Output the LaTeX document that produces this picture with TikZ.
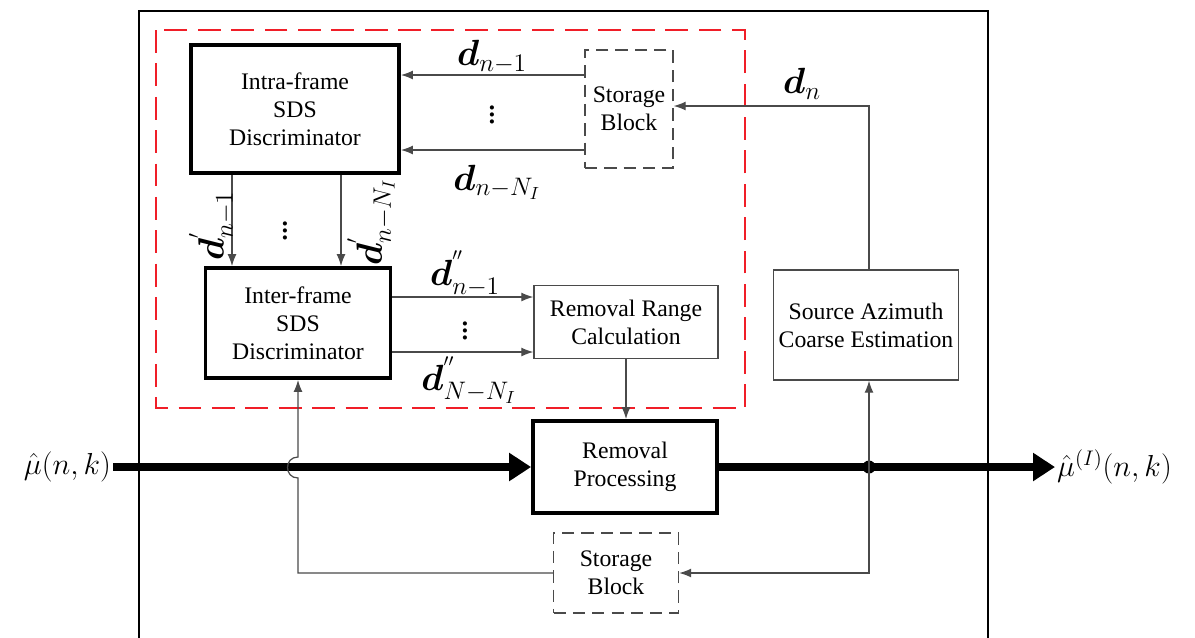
\documentclass[tikz,border=0pt]{standalone}
\usepackage{fontspec}
\setmainfont{Liberation Serif}
\usepackage{amsmath,amssymb}
\usetikzlibrary{arrows.meta,positioning,calc}
\definecolor{lnGray}{HTML}{4A4A4A}
\definecolor{dashRed}{HTML}{F01E28}

\tikzset{
  boxtext/.style={align=center, font=\fontsize{13.5}{16}\selectfont, inner sep=0pt},
  thickbox/.style={boxtext, draw=black, line width=2.2pt},
  thinbox/.style={boxtext, draw=lnGray, line width=0.8pt},
  storebox/.style={boxtext, draw=lnGray, line width=0.8pt, dash pattern=on 7pt off 4pt},
  sig/.style={draw=lnGray, line width=0.7pt, -{Latex[length=2.4mm,width=1.8mm]}},
  bigsig/.style={draw=black, line width=4.4pt, -{Triangle[length=4.4mm,width=5.4mm]}},
  lbl/.style={font=\fontsize{20}{22}\selectfont, inner sep=1pt},
  iolbl/.style={font=\fontsize{18}{20}\selectfont, inner sep=1pt},
}

\begin{document}
\begin{tikzpicture}[x=0.02cm, y=-0.02cm]
  \useasboundingbox (0,0) rectangle (1195,637);
  % frames
  \draw[line width=1.2pt] (139,660) -- (139,11) -- (988,11) -- (988,660);
  \draw[dashRed, line width=1.2pt, dash pattern=on 13pt off 6pt] (156,30) rectangle (745,408);

  % blocks
  \node[thickbox, minimum width=4.16cm, minimum height=2.56cm] (intra) at (295,109) {Intra-frame\\SDS\\Discriminator};
  \node[storebox, minimum width=1.76cm, minimum height=2.36cm] (storeA) at (629,109) {Storage\\Block};
  \node[thickbox, minimum width=3.7cm, minimum height=2.2cm] (inter) at (298,323) {Inter-frame\\SDS\\Discriminator};
  \node[thinbox, minimum width=3.68cm, minimum height=1.46cm] (range) at (626,322) {Removal Range\\Calculation};
  \node[thickbox, minimum width=3.68cm, minimum height=1.84cm] (proc) at (625,467) {Removal\\Processing};
  \node[thinbox, minimum width=3.7cm, minimum height=2.2cm] (coarse) at (866,325) {Source Azimuth\\Coarse Estimation};
  \node[storebox, minimum width=2.5cm, minimum height=1.6cm] (storeB) at (616,573) {Storage\\Block};

  % signal ends
  \node[iolbl, anchor=east] (muin) at (113,467) {$\hat{\mu}(n,k)$};
  \node[iolbl, anchor=west] (muout) at (1055,467) {$\hat{\mu}^{(I)}(n,k)$};
  \coordinate (tap) at (869,467);
  \coordinate (hopb) at (inter.south |- 0,478);
  \coordinate (hopt) at (inter.south |- 0,457);

  % storage to intra-frame
  \draw[sig] (storeA.west |- 0,75) -- (intra.east |- 0,75);
  \draw[sig] (storeA.west |- 0,150) -- (intra.east |- 0,150);
  \node[lbl] at (492,57) {$\boldsymbol{d}_{n-1}$};
  \node[lbl] at (497,182) {$\boldsymbol{d}_{n-N_I}$};
  \node[lbl] at (492,110) {$\vdots$};

  % intra-frame to inter-frame
  \draw[sig] (intra.south -| 232,0) -- (inter.north -| 232,0);
  \draw[sig] (intra.south -| 341,0) -- (inter.north -| 341,0);
  \node[lbl, rotate=90] at (212,226) {$\boldsymbol{d}^{'}_{n-1}$};
  \node[lbl, rotate=90] at (371,222) {$\boldsymbol{d}^{'}_{n-N_I}$};
  \node[lbl] at (285,226) {$\vdots$};

  % inter-frame to range calculation
  \draw[sig] (inter.east |- 0,297) -- (range.west |- 0,297);
  \draw[sig] (inter.east |- 0,352) -- (range.west |- 0,352);
  \node[lbl] at (465,274) {$\boldsymbol{d}^{''}_{n-1}$};
  \node[lbl] at (469,380) {$\boldsymbol{d}^{''}_{N-N_I}$};
  \node[lbl] at (465,326) {$\vdots$};

  \draw[sig] (range.south) -- (range.south |- proc.north);

  % main path
  \draw[bigsig] (muin.east) -- (proc.west);
  \draw[bigsig] (proc.east) -- (muout.west);
  \fill (tap) circle (6.5);

  % coarse estimate and feedback
  \draw[sig] (tap) -- (tap |- coarse.south);
  \draw[sig] (coarse.north -| tap) -- (tap |- 0,106) -- (storeA.east |- 0,106);
  \node[lbl] at (802,84) {$\boldsymbol{d}_{n}$};
  \draw[sig] (tap) -- (tap |- storeB.east) -- (storeB.east);
  \draw[sig] (storeB.west) -- (inter.south |- storeB.west) -- (hopb)
    .. controls +(-14,0) and +(-14,0) .. (hopt) -- (inter.south);
\end{tikzpicture}
\end{document}
